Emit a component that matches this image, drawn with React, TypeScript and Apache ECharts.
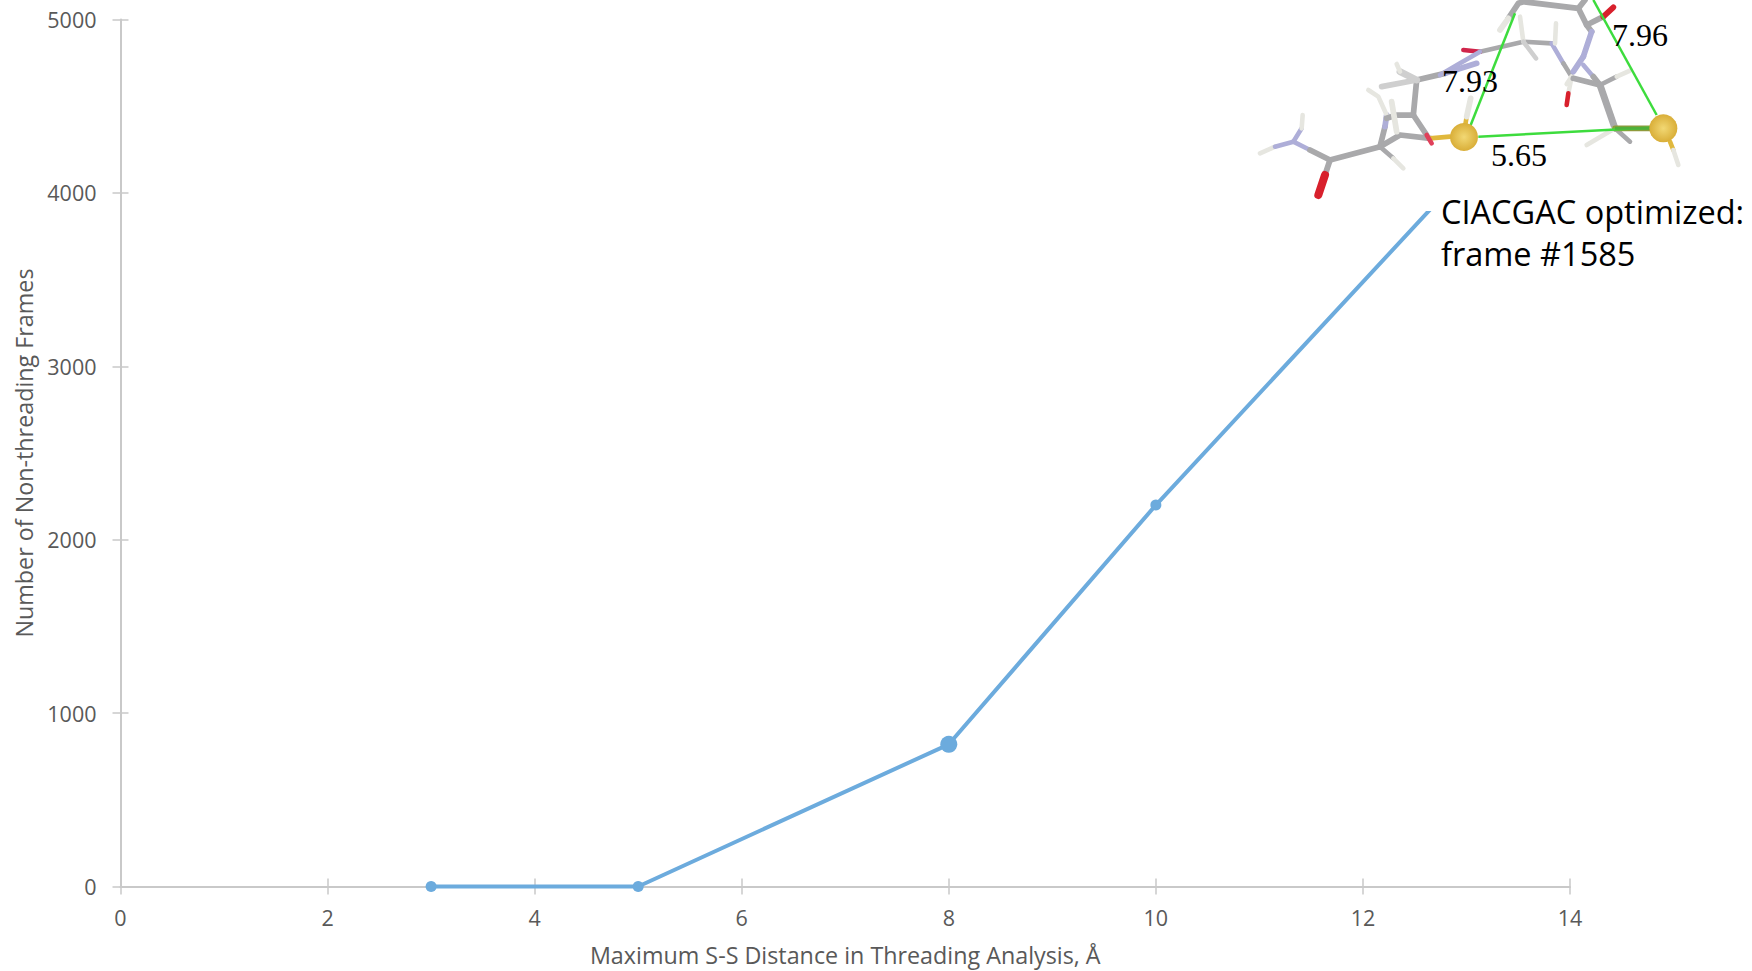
import React, { useEffect, useRef } from "react";
import * as echarts from "echarts";

const xValues = [3, 5, 8, 10, 13];
const yValues = [0, 0, 820, 2200, 4130];
const xTitle = "Maximum S-S Distance in Threading Analysis, Å";
const yTitle = "Number of Non-threading Frames";
const insetCaption = ["CIACGAC optimized:", "frame #1585"];
const distanceLabels = [
  { text: "7.96", x: 1640, y: 35 },
  { text: "7.93", x: 1470, y: 81 },
  { text: "5.65", x: 1519, y: 155 },
];

const GRAY = "#a9a9ab";
const LIGHT = "#cfcfcf";
const WHITE = "#e6e6e0";
const LAV = "#aeaed8";
const RED = "#d8202c";
const YEL = "#e0b83c";
const GREEN = "#3ddc3d";

type Stick = [string, number, number[][]];
// right half of the molecule, traced from the 1440,0 crop at 3x
const sticksRight: Stick[] = [
  [GRAY, 5, [[205, 55], [235, 10], [250, 5], [415, 25], [440, 75], [455, 95]]],
  [WHITE, 5, [[205, 55], [180, 90]]],
  [GRAY, 5, [[415, 25], [435, 0]]],
  [GRAY, 5, [[440, 75], [490, 50]]],
  [RED, 5, [[490, 50], [520, 22]]],
  [LAV, 5, [[455, 95], [430, 170]]],
  [GRAY, 4, [[120, 155], [250, 125], [335, 130]]],
  [LAV, 4, [[335, 130], [370, 190]]],
  [GRAY, 4, [[370, 190], [395, 230]]],
  ["#d0244a", 4, [[120, 155], [70, 150]]],
  [LAV, 4, [[120, 155], [60, 190], [0, 225]]],
  [WHITE, 4, [[250, 125], [240, 50]]],
  [LIGHT, 4, [[250, 125], [288, 175]]],
  [WHITE, 4, [[345, 130], [348, 70]]],
  [WHITE, 4, [[395, 230], [380, 252]]],
  [WHITE, 4, [[395, 230], [385, 280]]],
  [RED, 4, [[385, 280], [380, 315]]],
  [LAV, 5, [[430, 170], [400, 215]]],
  [LAV, 4, [[430, 195], [460, 230]]],
  [GRAY, 5, [[460, 230], [480, 255]]],
  [GRAY, 5, [[400, 235], [480, 255]]],
  [GRAY, 4, [[480, 255], [530, 230]]],
  [WHITE, 4, [[530, 230], [570, 212]]],
  [GRAY, 6, [[480, 255], [525, 385]]],
  [WHITE, 4, [[525, 385], [440, 435]]],
  [GRAY, 4, [[525, 385], [570, 425]]],
  ["#8f9a3c", 5, [[525, 385], [630, 385]]],
  [YEL, 4, [[690, 425], [700, 450]]],
  [WHITE, 4, [[700, 450], [715, 495]]],
  [YEL, 4, [[75, 380], [80, 350]]],
  [WHITE, 5, [[80, 350], [92, 295]]],
];
// left half of the molecule, traced from the 1250,60 crop at 3x
const sticksLeft: Stick[] = [
  [WHITE, 4, [[30, 280], [75, 260]]],
  [LAV, 4, [[75, 260], [130, 245]]],
  [LAV, 4, [[130, 245], [155, 205]]],
  [WHITE, 4, [[155, 205], [158, 165]]],
  [LAV, 4, [[130, 245], [180, 270]]],
  [GRAY, 5, [[180, 270], [240, 300]]],
  [GRAY, 5, [[240, 300], [390, 260]]],
  [GRAY, 5, [[240, 300], [225, 345]]],
  [RED, 7, [[225, 345], [205, 405]]],
  [GRAY, 5, [[390, 260], [450, 225], [540, 235]]],
  [YEL, 4, [[540, 235], [600, 230]]],
  [GRAY, 5, [[390, 260], [405, 200]]],
  [LAV, 5, [[405, 200], [410, 165]]],
  [WHITE, 4, [[410, 165], [385, 110], [355, 90]]],
  [GRAY, 5, [[410, 175], [440, 165], [490, 165]]],
  [WHITE, 5, [[425, 125], [440, 215]]],
  [GRAY, 5, [[490, 165], [530, 225]]],
  ["#e0405a", 4, [[530, 225], [545, 250]]],
  [GRAY, 5, [[490, 165], [500, 60]]],
  [LIGHT, 5, [[500, 60], [395, 80]]],
  [GRAY, 5, [[500, 60], [585, 40]]],
  [LAV, 5, [[585, 40], [680, 10]]],
  [LIGHT, 6, [[500, 60], [450, 35]]],
  [WHITE, 4, [[450, 35], [440, 12]]],
  [GRAY, 4, [[390, 260], [430, 295]]],
  [WHITE, 4, [[430, 295], [460, 325]]],
];
const greenLines: number[][][] = [
  [[90, 380], [225, 40]],
  [[115, 410], [630, 383]],
  [[650, 345], [460, 0]],
];
const sulfurs = [[72, 411], [670, 385]];

const mapRight = (p: number[]) => [1440 + p[0] / 3, p[1] / 3];
const mapLeft = (p: number[]) => [1250 + p[0] / 3, 60 + p[1] / 3];

const stickEl = (s: Stick, map: (p: number[]) => number[]) => ({
  type: "polyline",
  z: 11,
  shape: { points: s[2].map(map) },
  style: { stroke: s[0], lineWidth: s[1] * 1.15, fill: "none", lineCap: "round", lineJoin: "round" },
});

export default function App() {
  const ref = useRef<HTMLDivElement>(null);
  useEffect(() => {
    const chart = echarts.init(ref.current!, undefined, { renderer: "svg" });
    const labelFont = { fontFamily: "'Open Sans'", color: "#595959" };
    const line = { lineStyle: { color: "#c9c9c9", width: 2 } };
    const fmt = (v: number) => String(v);
    const baseX = { type: "value", min: 0, max: 14, interval: 2, splitLine: { show: false } };
    const baseY = { type: "value", min: 0, max: 5000, interval: 1000, splitLine: { show: false } };
    chart.setOption({
      animation: false,
      backgroundColor: "#ffffff",
      grid: { left: 120.5, right: 182, top: 19.5, bottom: 84.5, containLabel: false, outerBoundsMode: "none" },
      xAxis: [
        {
          ...baseX,
          name: xTitle,
          nameLocation: "middle",
          nameGap: 57,
          nameTextStyle: { ...labelFont, fontSize: 23.3 },
          axisLine: { show: true, ...line },
          axisTick: { show: true, length: 8, lineStyle: { color: "#c9c9c9", width: 1.5 } },
          axisLabel: { ...labelFont, fontSize: 21.5, margin: 20, formatter: fmt },
        },
        {
          ...baseX,
          position: "bottom",
          axisLine: { show: false },
          axisTick: { show: true, inside: true, length: 8, lineStyle: { color: "#c9c9c9", width: 1.5 } },
          axisLabel: { show: false },
        },
      ],
      yAxis: [
        {
          ...baseY,
          name: yTitle,
          nameLocation: "middle",
          nameGap: 85,
          nameTextStyle: { ...labelFont, fontSize: 23.3 },
          axisLine: { show: true, ...line },
          axisTick: { show: true, length: 8, lineStyle: { color: "#c9c9c9", width: 1.5 } },
          axisLabel: { ...labelFont, fontSize: 21.5, margin: 24, formatter: fmt },
        },
        {
          ...baseY,
          position: "left",
          axisLine: { show: false },
          axisTick: { show: true, inside: true, length: 8, lineStyle: { color: "#c9c9c9", width: 1.5 } },
          axisLabel: { show: false },
        },
      ],
      series: [
        {
          type: "line",
          data: xValues.map((x, i) => [x, yValues[i]]),
          symbol: "circle",
          symbolSize: (_v: unknown, p: { dataIndex: number }) => (p.dataIndex === 2 ? 17 : 11),
          lineStyle: { color: "#6cabdd", width: 4 },
          itemStyle: { color: "#6cabdd" },
          clip: false,
          z: 3,
        },
      ],
      graphic: {
        elements: [
          { type: "rect", z: 10, shape: { x: 1260, y: 0, width: 492, height: 211 }, style: { fill: "#ffffff" } },
          ...sticksLeft.map((s) => stickEl(s, mapLeft)),
          ...sticksRight.map((s) => stickEl(s, mapRight)),
          ...greenLines.map((pts) => ({
            type: "polyline",
            z: 12,
            shape: { points: pts.map(mapRight) },
            style: { stroke: GREEN, lineWidth: 2.5, fill: "none" },
          })),
          {
            type: "polyline",
            z: 12,
            shape: { points: [[525, 385], [630, 385]].map(mapRight) },
            style: { stroke: "#4fb03a", lineWidth: 3, fill: "none" },
          },
          ...sulfurs.map((p) => {
            const c = mapRight(p);
            return {
              type: "circle",
              z: 13,
              shape: { cx: c[0], cy: c[1], r: 14 },
              style: {
                fill: new echarts.graphic.RadialGradient(0.5, 0.5, 0.5, [
                  { offset: 0, color: "#f2d874" },
                  { offset: 1, color: "#d9ae38" },
                ]),
              },
            };
          }),
          ...distanceLabels.map((l) => ({
            type: "text",
            z: 14,
            style: {
              text: l.text,
              x: l.x,
              y: l.y,
              align: "center",
              verticalAlign: "middle",
              font: "32px 'Liberation Serif'",
              fill: "#000000",
            },
          })),
          ...insetCaption.map((t, i) => ({
            type: "text",
            z: 14,
            style: {
              text: t,
              x: 1441,
              y: 211 + i * 42,
              align: "left",
              verticalAlign: "middle",
              font: "32.5px 'Open Sans'",
              fill: "#000000",
            },
          })),
        ],
      },
    });
    return () => chart.dispose();
  }, []);
  return (
    <div
      ref={ref}
      style={{ position: "fixed", left: 0, top: 0, width: 1752, height: 971, background: "#fff" }}
    />
  );
}
